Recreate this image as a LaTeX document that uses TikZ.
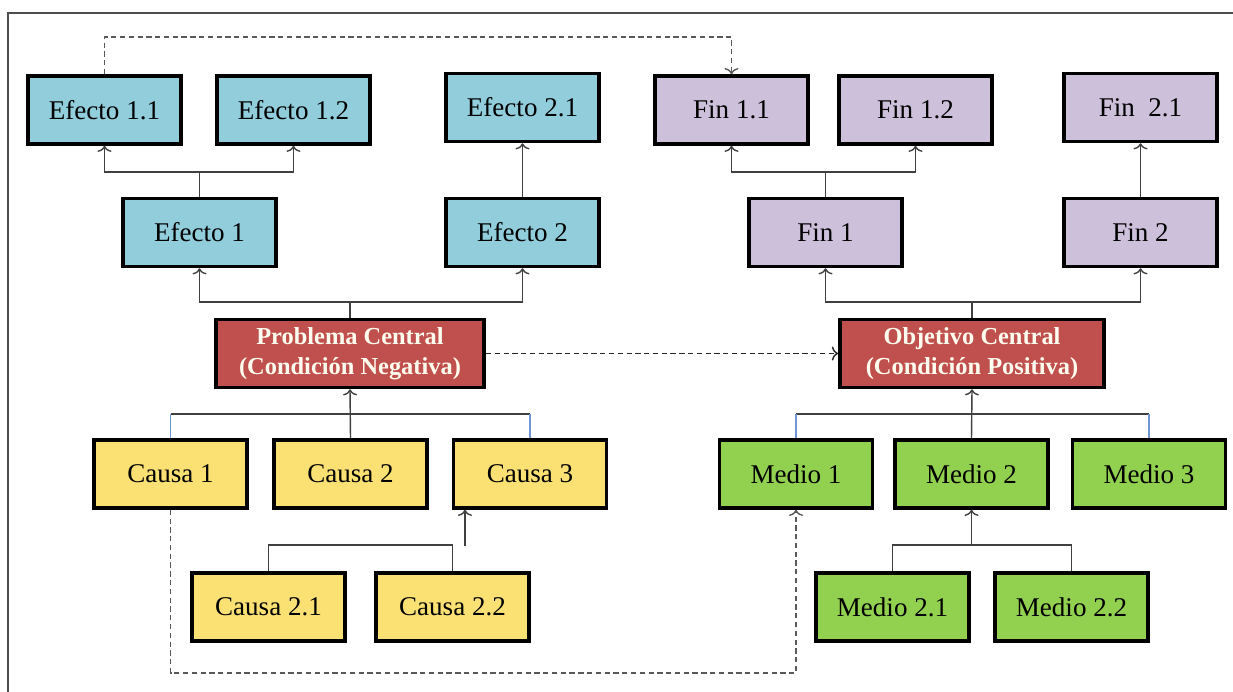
\documentclass[tikz,border=0pt]{standalone}
\usepackage{fontspec}
\setmainfont{Liberation Serif}
\usetikzlibrary{arrows.meta}
\definecolor{azulefecto}{RGB}{146,205,220}
\definecolor{lilafin}{RGB}{204,192,218}
\definecolor{rojocentral}{RGB}{192,80,77}
\definecolor{amarillocausa}{RGB}{251,225,115}
\definecolor{verdemedio}{RGB}{146,208,80}
\definecolor{azullinea}{RGB}{110,150,210}
\tikzset{
  caja/.style = {draw, line width=2pt, minimum width=3.06cm, minimum height=1.36cm,
                 inner sep=0pt, font=\fontsize{15.4}{18}\selectfont},
  efecto/.style = {caja, fill=azulefecto},
  fin/.style = {caja, fill=lilafin},
  causa/.style = {caja, fill=amarillocausa},
  medio/.style = {caja, fill=verdemedio},
  central/.style = {caja, fill=rojocentral, text=white!94!yellow, align=center,
                    font=\fontsize{13.9}{17}\selectfont\bfseries},
  linea/.style = {draw=black!75, line width=0.8pt},
  flecha/.style = {linea, -{To[length=3.5pt,width=8pt]}},
  punteada/.style = {flecha, draw=black!65, dash pattern=on 3pt off 2pt},
}
\begin{document}
\begin{tikzpicture}[x=0.02cm, y=-0.02cm]
\useasboundingbox (0,0) rectangle (1233,692);
\draw[black!70, line width=1.2pt] (8,692) -- (8,13) -- (1233,13);
% arbol de problemas
\node[efecto] (e11) at (104.5,110) {Efecto 1.1};
\node[efecto] (e12) at (293.5,110) {Efecto 1.2};
\node[efecto] (e21) at (522.5,107.5) {Efecto 2.1};
\node[efecto] (e1) at (199.5,232.5) {Efecto 1};
\node[efecto] (e2) at (522.5,232.5) {Efecto 2};
\node[central, minimum width=5.37cm] (pc) at (350,353.5) {Problema Central\\(Condición Negativa)};
\node[causa] (c1) at (170.5,474) {Causa 1};
\node[causa] (c2) at (350.5,474) {Causa 2};
\node[causa] (c3) at (530,474) {Causa 3};
\node[causa] (c21) at (268.5,607) {Causa 2.1};
\node[causa] (c22) at (452.5,607) {Causa 2.2};
% arbol de objetivos
\node[fin] (f11) at (731.5,110) {Fin 1.1};
\node[fin] (f12) at (915.5,110) {Fin 1.2};
\node[fin] (f21) at (1140.5,107.5) {Fin\ \ 2.1};
\node[fin] (f1) at (825.5,232.5) {Fin 1};
\node[fin] (f2) at (1140.5,232.5) {Fin 2};
\node[central, minimum width=5.29cm] (oc) at (972,353.5) {Objetivo Central\\(Condición Positiva)};
\node[medio] (m1) at (796,474) {Medio 1};
\node[medio] (m2) at (971.5,474) {Medio 2};
\node[medio] (m3) at (1149,474) {Medio 3};
\node[medio] (m21) at (892.5,607) {Medio 2.1};
\node[medio] (m22) at (1071.5,607) {Medio 2.2};
% niveles de las uniones
\coordinate (rtop) at (0,37);
\coordinate (r1) at (0,172);
\coordinate (r2) at (0,302);
\coordinate (r3) at (0,414);
\coordinate (r4) at (0,545);
\coordinate (rbot) at (0,673);
\coordinate (c3in) at (465,546);
% efectos
\draw[linea] (e1.north) -- (e1.north |- r1);
\draw[flecha] (e1.north |- r1) -| (e11.south);
\draw[flecha] (e1.north |- r1) -| (e12.south);
\draw[flecha] (e2.north) -- (e21.south);
\draw[linea] (pc.north) -- (pc.north |- r2);
\draw[flecha] (pc.north |- r2) -| (e1.south);
\draw[flecha] (pc.north |- r2) -| (e2.south);
% causas
\draw[flecha] (c2.north) -- (pc.south);
\draw[linea] (c1.north |- r3) -- (c3.north |- r3);
\draw[azullinea, line width=0.6pt] (c1.north) -- (c1.north |- r3);
\draw[azullinea, line width=0.6pt] (c3.north) -- (c3.north |- r3);
\draw[linea] (c21.north) |- (c22.north |- r4) -- (c22.north);
\draw[flecha] (c3in) -- (c3in |- c3.south);
% fines
\draw[linea] (f1.north) -- (f1.north |- r1);
\draw[flecha] (f1.north |- r1) -| (f11.south);
\draw[flecha] (f1.north |- r1) -| (f12.south);
\draw[flecha] (f2.north) -- (f21.south);
\draw[linea] (oc.north) -- (oc.north |- r2);
\draw[flecha] (oc.north |- r2) -| (f1.south);
\draw[flecha] (oc.north |- r2) -| (f2.south);
% medios
\draw[flecha] (m2.north) -- (oc.south);
\draw[linea] (m1.north |- r3) -- (m3.north |- r3);
\draw[azullinea, line width=0.6pt] (m1.north) -- (m1.north |- r3);
\draw[azullinea, line width=0.6pt] (m3.north) -- (m3.north |- r3);
\draw[linea] (m21.north) |- (m22.north |- r4) -- (m22.north);
\draw[flecha] (m2.south |- r4) -- (m2.south);
% correspondencias
\draw[punteada] (e11.north) -- (e11.north |- rtop) -| (f11.north);
\draw[punteada, draw=black!85] (pc.east) -- (oc.west);
\draw[punteada] (c1.south) -- (c1.south |- rbot) -| (m1.south);
\end{tikzpicture}
\end{document}
